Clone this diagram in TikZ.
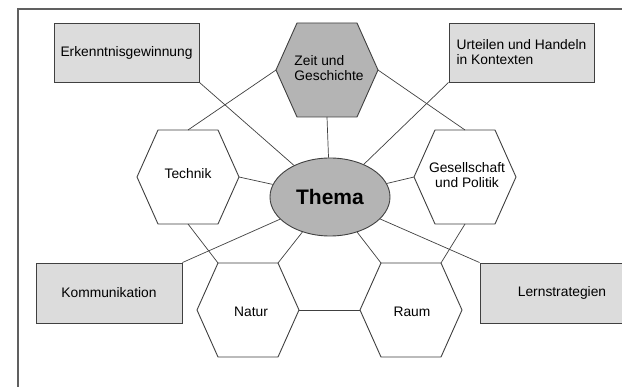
\documentclass[tikz,border=0pt]{standalone}
\usepackage{fontspec}
\setmainfont{Liberation Sans}
\usetikzlibrary{shapes.geometric}
\definecolor{boxgray}{HTML}{DCDCDC}
\definecolor{hexgray}{HTML}{B4B4B4}
\definecolor{linegray}{HTML}{404040}
\definecolor{framegray}{HTML}{606060}
\tikzset{
  every node/.style={font=\fontsize{13.8}{15}\selectfont, inner sep=0pt},
  box/.style={draw=linegray, line width=0.9pt, fill=boxgray, minimum width=145pt, minimum height=59pt},
  hexline/.style={draw=linegray, line width=0.9pt},
  conn/.style={draw=linegray, line width=0.7pt},
  thema/.style={ellipse, draw=linegray, line width=0.9pt, fill=hexgray, minimum width=120pt, minimum height=78pt, font=\bfseries\fontsize{21}{24}\selectfont},
}
\newcommand\hexshape[4]{%
  \begin{scope}[shift={(#2,#3)}]
    \coordinate (#1-l) at (-51,0);
    \coordinate (#1-r) at (51,0);
    \coordinate (#1-tl) at (-30,-47);
    \coordinate (#1-tr) at (30,-47);
    \coordinate (#1-bl) at (-30,47);
    \coordinate (#1-br) at (30,47);
    \coordinate (#1-t) at (0,-47);
    \coordinate (#1-b) at (0,47);
  \end{scope}
  \draw[hexline, fill=#4] (#1-l) -- (#1-tl) -- (#1-tr) -- (#1-r) -- (#1-br) -- (#1-bl) -- cycle;}
\begin{document}
\begin{tikzpicture}[x=1pt,y=-1pt]
\useasboundingbox (0,0) rectangle (622,387);
\clip (0,0) rectangle (622,387);
\fill[white] (0,0) rectangle (622,387);
\draw[framegray, line width=1.4pt] (18,400) -- (18,9) -- (640,9);

% boxes
\node[box] (erk) at (126.5,52.5) {Erkenntnisgewinnung};
\node[box, align=left] (urt) at (521.5,52.5) {Urteilen und Handeln\\in Kontexten};
\node[box, minimum width=146pt, minimum height=60pt] (kom) at (109,293) {Kommunikation};
\node[box, minimum width=164pt, minimum height=60pt] (lern) at (562,293) {Lernstrategien};

% hexagons
\hexshape{zeit}{327}{70}{hexgray}
\hexshape{tech}{188}{177}{white}
\hexshape{ges}{465}{177}{white}
\hexshape{natur}{248}{310}{white}
\hexshape{raum}{411}{310}{white}

\node[align=left] (zeit) at (329,68) {Zeit und\\Geschichte};
\node (tech) at (188,174) {Technik};
\node[align=center] (ges) at (467,175) {Gesellschaft\\und Politik};
\node (natur) at (251,312) {Natur};
\node (raum) at (412,312) {Raum};

% centre
\node[thema] (thema) at (330,197) {Thema};

% connectors
\draw[conn] (erk.south east) -- (thema);
\draw[conn] (urt.south west) -- (thema);
\draw[conn] (zeit-b) -- (thema);
\draw[conn] (tech-r) -- (thema);
\draw[conn] (ges-l) -- (thema);
\draw[conn] (kom.north east) -- (thema);
\draw[conn] (natur-tr) -- (thema);
\draw[conn] (raum-tl) -- (thema);
\draw[conn] (lern.north west) -- (thema);
\draw[conn] (zeit-l) -- (tech-t);
\draw[conn] (zeit-r) -- (ges-t);
\draw[conn] (tech-b) -- (natur-tl);
\draw[conn] (ges-b) -- (raum-tr);
\draw[conn] (natur-r) -- (raum-l);
\end{tikzpicture}
\end{document}
